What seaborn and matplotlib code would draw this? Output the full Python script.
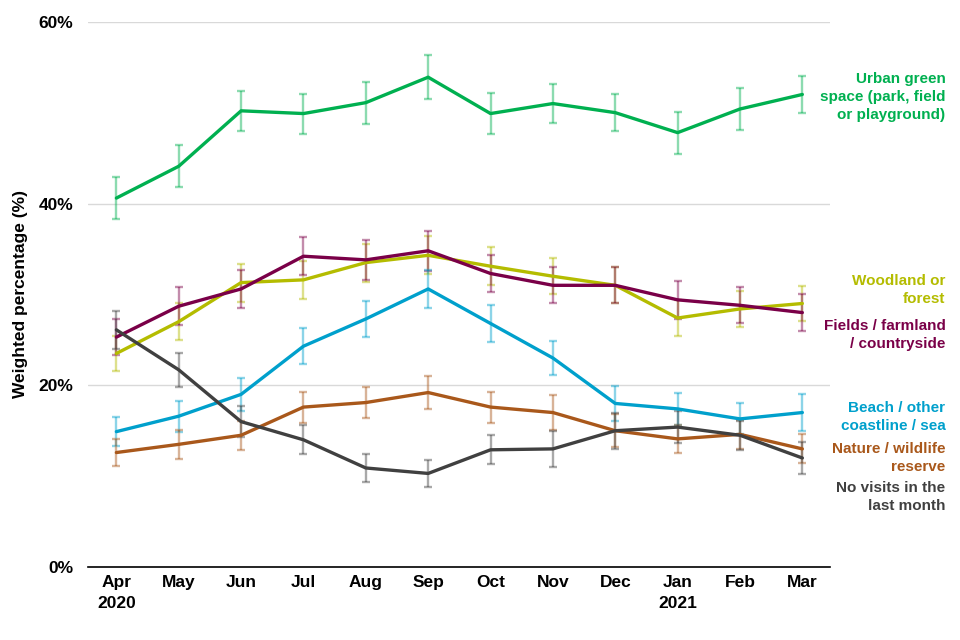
import numpy as np
import pandas as pd
import matplotlib
matplotlib.use('Agg')
import matplotlib.pyplot as plt
import matplotlib.transforms as mtransforms
import seaborn as sns

# 데이터
months = ['Apr\n2020', 'May', 'Jun', 'Jul', 'Aug', 'Sep', 'Oct', 'Nov', 'Dec', 'Jan\n2021', 'Feb', 'Mar']

urban = [40.6, 44.1, 50.2, 49.9, 51.1, 53.9, 49.9, 51.0, 50.0, 47.8, 50.4, 52.0]
urban_err = [2.3, 2.3, 2.2, 2.2, 2.3, 2.4, 2.3, 2.1, 2.0, 2.3, 2.3, 2.0]

fields = [25.3, 28.7, 30.6, 34.2, 33.8, 34.8, 32.3, 31.0, 31.0, 29.4, 28.8, 28.0]
fields_err = [2.0, 2.1, 2.1, 2.1, 2.2, 2.2, 2.0, 2.0, 2.0, 2.1, 2.0, 2.0]

woodland = [23.5, 27.0, 31.3, 31.6, 33.5, 34.3, 33.1, 32.0, 31.0, 27.4, 28.4, 29.0]
woodland_err = [1.9, 2.0, 2.1, 2.1, 2.1, 2.1, 2.1, 2.0, 2.0, 2.0, 2.0, 1.9]

beach = [14.9, 16.6, 19.0, 24.3, 27.3, 30.6, 26.8, 23.0, 18.0, 17.4, 16.3, 17.0]
beach_err = [1.6, 1.7, 1.8, 2.0, 2.0, 2.1, 2.0, 1.9, 1.9, 1.8, 1.7, 2.0]

nature = [12.6, 13.5, 14.5, 17.6, 18.1, 19.2, 17.6, 17.0, 15.0, 14.1, 14.6, 13.0]
nature_err = [1.5, 1.6, 1.6, 1.7, 1.7, 1.8, 1.7, 1.9, 1.8, 1.5, 1.6, 1.6]

novisit = [26.1, 21.7, 16.0, 14.0, 10.9, 10.3, 12.9, 13.0, 15.0, 15.4, 14.5, 12.0]
novisit_err = [2.1, 1.9, 1.7, 1.6, 1.5, 1.5, 1.6, 2.0, 2.0, 1.8, 1.6, 1.8]

names = ['Urban green\nspace (park, field\nor playground)',
         'Woodland or\nforest',
         'Fields / farmland\n/ countryside',
         'Beach / other\ncoastline / sea',
         'Nature / wildlife\nreserve',
         'No visits in the\nlast month']
colors = ['#00B050', '#B4BC00', '#7A0048', '#00A0CC', '#A9581B', '#404040']
label_y = [51.7, 30.5, 25.5, 16.5, 12.0, 7.7]

series = [urban, woodland, fields, beach, nature, novisit]
errs = [urban_err, woodland_err, fields_err, beach_err, nature_err, novisit_err]

rows = []
for nm, vals, ee in zip(names, series, errs):
    for i, (v, e) in enumerate(zip(vals, ee)):
        rows.append({'name': nm, 'x': i, 'value': v, 'err': e})
df = pd.DataFrame(rows)

sns.set_style('white')
plt.rcParams['font.family'] = ['Liberation Sans', 'DejaVu Sans']

fig = plt.figure(figsize=(9.6, 6.4), dpi=100)
ax = fig.add_axes([0.092, 0.114, 0.773, 0.852])

for nm, c in zip(names, colors):
    d = df[df['name'] == nm]
    ax.errorbar(d['x'], d['value'], yerr=d['err'], fmt='none', ecolor=c, alpha=0.45,
                elinewidth=1.7, capsize=3, capthick=1.7, zorder=2)

sns.lineplot(data=df, x='x', y='value', hue='name', palette=dict(zip(names, colors)),
             linewidth=2.4, legend=False, ax=ax, zorder=3)

ax.set_xlim(-0.45, 11.45)
ax.set_ylim(0, 60)
ax.set_yticks([0, 20, 40, 60])
ax.set_yticklabels(['0%', '20%', '40%', '60%'], fontsize=12.5, fontweight='bold', color='black')
ax.set_xticks(range(12))
ax.set_xticklabels(months, fontsize=12.5, fontweight='bold', color='black', linespacing=1.5)
ax.tick_params(axis='y', length=0, pad=11)
ax.tick_params(axis='x', length=0, pad=6)
ax.yaxis.grid(True, color='#d9d9d9', linewidth=1)
ax.set_axisbelow(True)
for s in ['top', 'right', 'left']:
    ax.spines[s].set_visible(False)
ax.spines['bottom'].set_color('black')
ax.spines['bottom'].set_linewidth(1.2)
ax.set_xlabel('')
ax.set_ylabel('Weighted percentage (%)', fontsize=12.5, fontweight='bold', color='black', labelpad=7)

trans = mtransforms.blended_transform_factory(ax.transAxes, ax.transData)
for nm, c, ly in zip(names, colors, label_y):
    ax.text(1.155, ly, nm, transform=trans, ha='right', va='center', color=c,
            fontsize=11, fontweight='bold', multialignment='right', linespacing=1.35)

plt.savefig('out.png', dpi=100)
